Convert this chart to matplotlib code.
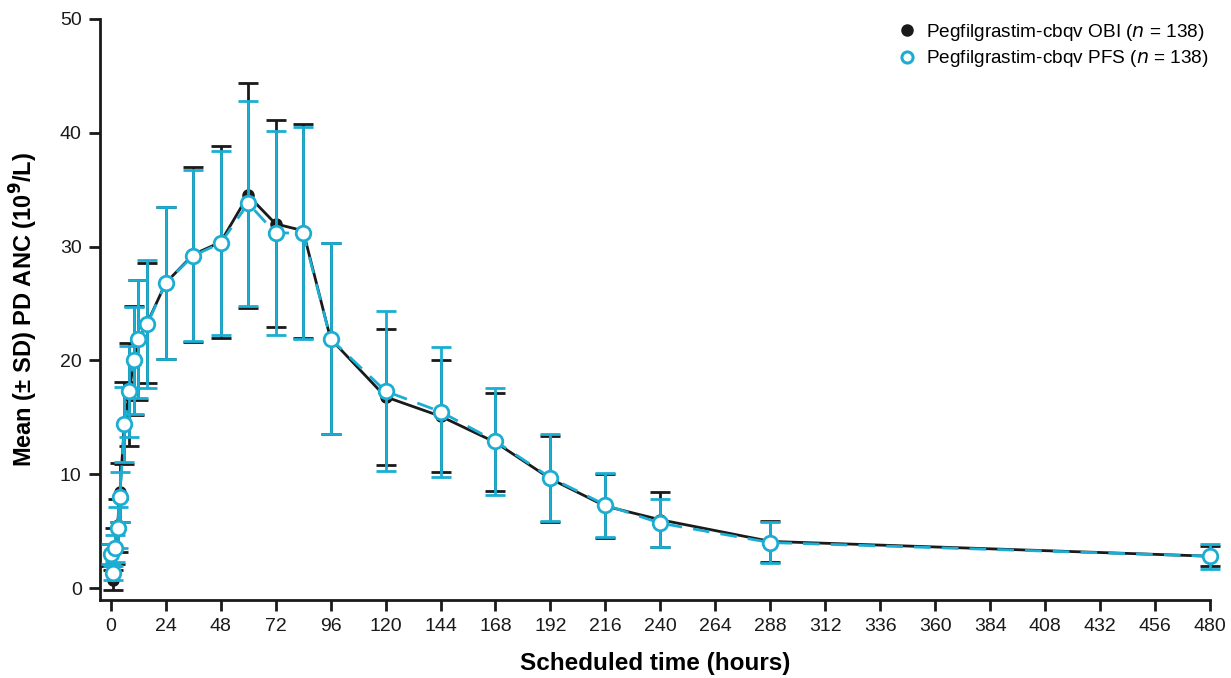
import matplotlib
matplotlib.use("Agg")
import matplotlib.pyplot as plt

plt.rcParams["font.family"] = ["Liberation Sans", "DejaVu Sans"]

hours = [0, 1, 2, 3, 4, 6, 8, 10, 12, 16, 24, 36, 48, 60, 72, 84, 96,
         120, 144, 168, 192, 216, 240, 288, 480]

obi_mean = [2.9, 0.7, 3.7, 5.5, 8.4, 14.5, 17.0, 20.0, 21.8, 23.3, 26.8, 29.3,
            30.4, 34.5, 32.0, 31.4, 21.9, 16.8, 15.1, 12.8, 9.6, 7.2, 6.0, 4.1, 2.8]
obi_sd = [1.0, 0.9, 1.6, 2.3, 2.6, 3.6, 4.5, 4.8, 5.3, 5.3, 6.7, 7.7,
          8.4, 9.9, 9.1, 9.4, 8.4, 6.0, 4.9, 4.3, 3.8, 2.8, 2.4, 1.8, 0.9]

pfs_mean = [3.0, 1.3, 3.5, 5.3, 8.0, 14.4, 17.3, 20.0, 21.9, 23.2, 26.8, 29.2,
            30.3, 33.8, 31.2, 31.2, 21.9, 17.3, 15.5, 12.9, 9.7, 7.3, 5.7, 4.0, 2.8]
pfs_sd = [0.9, 0.6, 1.2, 1.8, 2.2, 3.3, 4.0, 4.7, 5.2, 5.6, 6.7, 7.5,
          8.1, 9.0, 9.0, 9.3, 8.4, 7.0, 5.7, 4.7, 3.8, 2.8, 2.1, 1.8, 1.1]

black = "#1a1a1a"
cyan = "#1caed2"

fig = plt.figure(figsize=(12.31, 6.78), dpi=100)
ax = fig.add_axes([0.081, 0.115, 0.902, 0.857])

# OBI: black solid, filled markers
ax.errorbar(hours, obi_mean, yerr=obi_sd, color=black, lw=2, marker="o",
            ms=8, mfc=black, mec=black, ecolor=black, elinewidth=2,
            capsize=7, capthick=2, clip_on=False, zorder=3)

# PFS: cyan dashed, open markers
ax.errorbar(hours, pfs_mean, yerr=pfs_sd, color=cyan, lw=2, ls=(0, (6, 4)),
            marker="o", ms=10.5, mfc="white", mec=cyan, mew=2, ecolor=cyan,
            elinewidth=2, capsize=7, capthick=2, clip_on=False, zorder=4)

ax.set_xlim(-4.8, 480)
ax.set_ylim(-1.05, 50)
ax.set_xticks(range(0, 481, 24))
ax.set_yticks(range(0, 51, 10))

for s in ["top", "right"]:
    ax.spines[s].set_visible(False)
for s in ["left", "bottom"]:
    ax.spines[s].set_linewidth(2)
    ax.spines[s].set_color(black)
ax.tick_params(direction="out", length=8, width=2, labelsize=14, colors=black,
               pad=5)

ax.set_xlabel("Scheduled time (hours)", fontsize=17.5, fontweight="bold",
              labelpad=12)
ax.set_ylabel("Mean (± SD) PD ANC (10$^\\mathbf{9}$/L)", fontsize=17,
              fontweight="bold", labelpad=14)

handles = [
    plt.Line2D([], [], ls="none", marker="o", ms=8, mfc=black, mec=black),
    plt.Line2D([], [], ls="none", marker="o", ms=8, mfc="white", mec=cyan, mew=2.2),
]
ax.legend(handles, ["Pegfilgrastim-cbqv OBI ($n$ = 138)",
                    "Pegfilgrastim-cbqv PFS ($n$ = 138)"],
          loc="upper right", bbox_to_anchor=(1.014, 1.025), frameon=False,
          fontsize=13.7, handletextpad=0.4, labelspacing=0.3, handlelength=1.2)

fig.savefig("out.png", dpi=100)
